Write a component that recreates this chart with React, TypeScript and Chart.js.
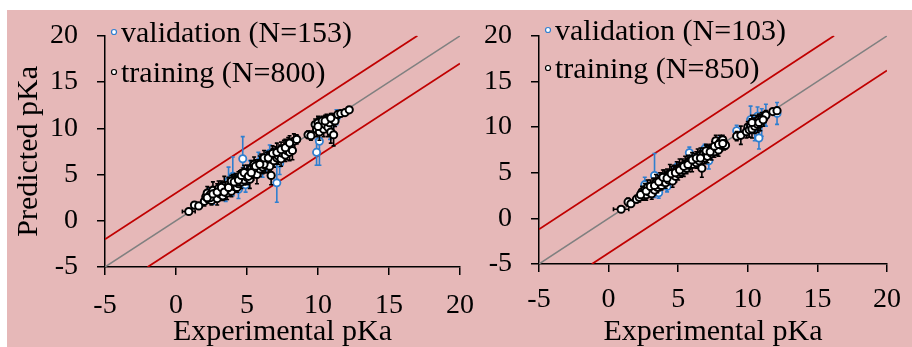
import { useEffect, useRef } from 'react';
import { Chart, registerables } from 'chart.js';
Chart.register(...registerables);

const FONT = '"Liberation Serif", "Times New Roman", serif';
const PINK = '#e6b8b8';
const BLUE = '#2f7fd0';
const RED = '#c00000';
const GRAY = '#808080';

// Left panel
const L_TRAIN_X = [0.9, 1.3, 1.6, 2.0, 2.1, 2.2, 2.3, 2.4, 2.5, 2.6, 2.7, 2.8, 2.9, 3.0, 3.1, 3.2, 3.3, 3.4, 3.5, 3.6, 3.7, 3.8, 3.9, 4.0, 4.1, 4.2, 4.3, 4.4, 4.5, 4.6, 4.7, 4.8, 4.9, 5.0, 5.1, 5.2, 5.3, 5.4, 5.5, 5.6, 5.7, 5.8, 5.9, 6.0, 6.1, 6.2, 6.3, 6.4, 6.5, 6.6, 6.7, 6.8, 6.9, 7.0, 7.1, 7.2, 7.3, 7.4, 7.5, 7.6, 7.7, 7.8, 7.9, 8.0, 8.1, 8.2, 8.3, 8.5, 9.3, 9.5, 9.8, 9.9, 10.0, 10.1, 10.2, 10.3, 10.4, 10.5, 10.6, 10.7, 10.8, 10.9, 11.0, 11.1, 11.2, 11.4, 11.6, 11.9, 12.2, 2.4, 3.0, 3.6, 4.3, 5.0, 5.5, 6.2,
  2.2, 2.6, 2.9, 3.2, 3.4, 3.7, 3.9, 4.1, 4.4, 4.6, 4.8, 5.1, 5.3, 5.6, 5.9, 6.2, 6.5, 6.8, 7.1, 7.4, 7.7, 8.0, 10.0, 10.5, 10.9];
const L_TRAIN_Y = [1.0, 1.7, 1.6, 2.1, 2.6, 3.0, 2.3, 2.8, 2.2, 3.3, 2.6, 3.0, 2.4, 3.5, 2.9, 3.2, 2.7, 3.8, 3.3, 3.0, 3.9, 3.5, 3.2, 4.1, 3.7, 4.4, 3.6, 4.0, 4.6, 4.2, 4.8, 4.4, 5.0, 4.7, 5.3, 4.5, 5.6, 5.0, 6.1, 5.4, 5.0, 6.0, 5.6, 6.3, 5.8, 6.5, 6.0, 6.7, 6.2, 5.9, 4.9, 6.9, 6.5, 7.2, 6.8, 7.0, 7.5, 6.7, 7.3, 7.8, 7.1, 7.6, 8.2, 7.4, 8.0, 7.6, 8.6, 8.8, 9.3, 9.2, 10.4, 9.9, 10.6, 9.6, 10.2, 10.8, 9.9, 10.4, 10.9, 10.1, 10.6, 9.6, 11.0, 9.3, 10.8, 11.5, 11.6, 11.7, 12.0, 2.5, 3.1, 3.5, 4.2, 5.2, 5.7, 6.1,
  2.5, 2.9, 3.1, 3.6, 3.1, 3.6, 4.3, 4.2, 4.4, 4.9, 5.2, 4.8, 5.2, 5.9, 6.1, 6.8, 6.8, 7.3, 7.4, 7.7, 7.9, 8.4, 10.2, 10.8, 11.1];
const L_TRAIN_E = [0.1, 0.3, 0.2, 0.5, 0.6, 0.7, 0.4, 0.8, 0.5, 0.9, 0.6, 0.5, 0.7, 0.8, 0.6, 0.9, 0.5, 1.0, 0.6, 0.7, 0.8, 0.5, 0.6, 0.9, 0.6, 0.7, 0.5, 0.6, 0.8, 0.7, 0.9, 0.5, 0.6, 0.8, 0.7, 1.0, 0.9, 0.6, 0.8, 0.7, 1.0, 0.6, 0.8, 0.9, 0.7, 0.6, 0.8, 0.7, 1.0, 0.6, 1.0, 0.9, 0.7, 0.8, 0.6, 0.9, 0.7, 0.8, 0.6, 0.9, 0.7, 1.0, 0.8, 0.9, 0.7, 1.0, 0.8, 0.5, 0.4, 0.5, 0.6, 0.8, 0.7, 0.9, 0.6, 0.5, 0.8, 0.7, 0.6, 1.0, 0.7, 1.2, 0.6, 1.2, 0.6, 0.4, 0.3, 0.3, 0.2, 0.6, 0.7, 0.6, 0.5, 0.8, 0.7, 0.9,
  0.5, 0.8, 0.9, 0.7, 0.8, 0.9, 0.6, 0.8, 0.9, 0.6, 0.8, 0.7, 0.9, 0.7, 0.9, 0.8, 0.7, 0.8, 1.0, 0.8, 0.9, 0.8, 0.9, 0.6, 0.5];
const L_VAL_X = [4.7, 7.1, 9.9, 10.1, 10.85, 4.0, 4.9, 7.3, 3.7, 3.5, 5.2, 5.8, 6.1, 2.6, 3.0, 8.0, 2.3, 6.6, 11.3, 4.4];
const L_VAL_Y = [6.7, 4.1, 7.4, 8.6, 10.1, 4.8, 3.9, 6.2, 4.3, 3.0, 5.6, 6.3, 5.5, 2.4, 2.9, 7.9, 3.0, 7.3, 11.2, 3.4];
const L_VAL_E = [2.4, 2.1, 1.4, 2.6, 1.3, 2.1, 0.8, 1.2, 1.5, 0.9, 0.9, 1.1, 0.8, 0.6, 0.7, 0.8, 0.5, 0.9, 0.8, 1.0];

// Right panel
const R_TRAIN_X = [0.9, 1.4, 1.6, 2.0, 2.2, 2.4, 2.5, 2.6, 2.7, 2.8, 2.9, 3.0, 3.1, 3.2, 3.3, 3.4, 3.5, 3.6, 3.7, 3.8, 3.9, 4.0, 4.1, 4.2, 4.3, 4.4, 4.5, 4.6, 4.7, 4.8, 4.9, 5.0, 5.1, 5.2, 5.3, 5.4, 5.5, 5.6, 5.7, 5.8, 5.9, 6.0, 6.2, 6.3, 6.4, 6.5, 6.6, 6.7, 6.8, 6.9, 7.0, 7.1, 7.2, 7.4, 7.5, 7.6, 7.7, 7.8, 7.9, 8.0, 8.1, 8.2, 8.3, 8.4, 9.2, 9.5, 9.9, 10.0, 10.1, 10.2, 10.3, 10.4, 10.5, 10.6, 10.7, 10.8, 10.9, 11.0, 11.2, 11.3, 11.8, 12.1,
  2.3, 2.7, 3.0, 3.3, 3.6, 3.9, 4.2, 4.5, 4.8, 5.1, 5.4, 5.7, 6.0, 6.3, 6.6, 7.0, 7.3, 7.6, 7.9, 8.2, 10.3, 10.8, 11.1];
const R_TRAIN_Y = [1.0, 1.8, 1.6, 2.1, 2.3, 2.9, 2.5, 3.1, 2.6, 3.4, 2.9, 3.2, 2.7, 3.6, 3.1, 3.9, 3.4, 3.7, 4.2, 3.6, 4.0, 4.4, 3.9, 4.6, 4.2, 4.9, 4.5, 4.1, 5.0, 4.6, 5.3, 4.9, 5.5, 5.1, 5.7, 5.3, 5.9, 5.5, 6.1, 5.8, 6.3, 5.9, 6.4, 6.1, 6.7, 6.3, 6.9, 5.5, 7.0, 6.6, 7.2, 6.8, 7.4, 7.1, 7.6, 7.3, 8.5, 7.8, 7.5, 8.3, 8.0, 8.6, 8.2, 8.0, 9.0, 9.1, 9.5, 10.0, 9.7, 10.2, 9.8, 10.4, 10.1, 10.6, 10.3, 10.8, 10.4, 10.9, 11.1, 11.3, 11.7, 11.8,
  2.6, 3.0, 3.5, 3.6, 4.0, 4.5, 4.4, 4.9, 5.0, 5.3, 5.7, 5.9, 6.4, 6.6, 6.6, 7.4, 7.3, 7.9, 8.1, 8.2, 10.5, 10.5, 10.8];
const R_TRAIN_E = [0.1, 0.4, 0.3, 0.4, 0.5, 0.6, 0.5, 0.7, 0.6, 0.8, 0.5, 0.7, 0.6, 0.8, 0.5, 0.9, 0.6, 0.7, 0.8, 0.5, 0.7, 0.9, 0.6, 0.8, 0.5, 1.0, 0.6, 0.7, 0.8, 0.6, 0.9, 0.7, 1.0, 0.6, 0.8, 0.7, 0.9, 0.6, 0.8, 0.7, 0.6, 0.8, 0.7, 0.6, 0.9, 0.7, 0.8, 1.0, 0.7, 0.6, 0.8, 0.7, 0.6, 0.7, 0.8, 0.6, 0.6, 0.9, 0.7, 0.8, 0.6, 0.5, 0.7, 0.4, 0.5, 1.0, 0.7, 0.6, 0.8, 0.7, 1.0, 0.6, 0.8, 0.7, 0.9, 0.6, 0.8, 0.7, 0.6, 0.5, 0.3, 0.3,
  0.5, 0.6, 0.7, 0.8, 0.7, 0.8, 0.7, 0.8, 0.7, 0.8, 0.6, 0.7, 0.8, 0.7, 0.8, 0.7, 0.8, 0.6, 0.7, 0.6, 0.8, 0.9, 0.7];
const R_VAL_X = [3.3, 10.8, 5.8, 7.2, 9.2, 10.2, 10.7, 11.3, 12.1, 10.5, 2.6, 3.1, 4.2, 4.0, 3.6, 6.9, 4.9, 8.0, 11.0];
const R_VAL_Y = [4.7, 8.8, 7.2, 6.3, 9.6, 10.8, 11.2, 11.3, 11.5, 9.9, 3.7, 3.0, 3.5, 3.8, 2.8, 7.6, 5.6, 8.4, 10.5];
const R_VAL_E = [2.4, 1.2, 0.6, 0.9, 0.6, 1.5, 1.0, 1.2, 1.2, 1.4, 0.8, 0.7, 0.6, 0.5, 0.6, 0.5, 0.6, 0.5, 1.5];

const X_TICKS = [-5, 0, 5, 10, 15, 20];
const Y_TICKS = [-5, 0, 5, 10, 15, 20];

function pts(xs: number[], ys: number[], es: number[], xerrLow: number) {
  return xs.map((x, i) => ({ x, y: ys[i], ey: es[i], ex: i === 0 ? xerrLow : 0.15 }));
}

const errorBars = {
  id: 'errorBars',
  beforeDatasetDraw(chart: any, args: any) {
    const ds = chart.data.datasets[args.index];
    if (!ds.errColor) return;
    const { ctx, scales } = chart;
    const xs = scales.x, ys = scales.y;
    ctx.save();
    ctx.strokeStyle = ds.errColor;
    ctx.lineWidth = 1.6;
    ds.data.forEach((p: any) => {
      const px = xs.getPixelForValue(p.x);
      const py = ys.getPixelForValue(p.y);
      const top = ys.getPixelForValue(p.y + p.ey);
      const bot = ys.getPixelForValue(p.y - p.ey);
      const l = xs.getPixelForValue(p.x - p.ex);
      const r = xs.getPixelForValue(p.x + p.ex);
      ctx.beginPath();
      ctx.moveTo(px, top); ctx.lineTo(px, bot);
      ctx.moveTo(px - 2, top); ctx.lineTo(px + 2, top);
      ctx.moveTo(px - 2, bot); ctx.lineTo(px + 2, bot);
      ctx.moveTo(l, py); ctx.lineTo(r, py);
      ctx.moveTo(l, py - 2); ctx.lineTo(l, py + 2);
      ctx.moveTo(r, py - 2); ctx.lineTo(r, py + 2);
      ctx.stroke();
    });
    ctx.restore();
  },
};

const legendBox = {
  id: 'legendBox',
  afterDraw(chart: any) {
    const items = chart.options.plugins.legendBox.items;
    const { ctx, chartArea } = chart;
    ctx.save();
    items.forEach((it: any) => {
      const mx = chartArea.left + 9;
      ctx.beginPath();
      ctx.arc(mx, it.y, 2.5, 0, Math.PI * 2);
      ctx.fillStyle = '#fff';
      ctx.fill();
      ctx.lineWidth = 1.2;
      ctx.strokeStyle = it.color;
      ctx.stroke();
      ctx.fillStyle = '#000';
      ctx.font = `30px ${FONT}`;
      ctx.textBaseline = 'middle';
      ctx.textAlign = 'left';
      ctx.fillText(it.text, chartArea.left + 16, it.y + 2);
    });
    ctx.restore();
  },
};

type PanelCfg = {
  padL: number; padR: number; yW: number; xH: number; xPad: number; showYTitle: boolean; band: number;
  train: any[]; val: any[]; legend: any[];
};

function makeConfig(p: PanelCfg): any {
  const axisFont = { family: FONT, size: 28 };
  const grid = { drawOnChartArea: false, drawTicks: true, tickLength: 8, color: '#000', lineWidth: 1.5 };
  return {
    type: 'scatter',
    data: {
      datasets: [
        { data: p.train, order: 1, errColor: '#000', pointRadius: 3.6, pointBorderWidth: 2, pointBackgroundColor: '#fff', pointBorderColor: '#000' },
        { data: p.val, order: 2, errColor: BLUE, pointRadius: 3.6, pointBorderWidth: 1.8, pointBackgroundColor: '#fff', pointBorderColor: BLUE },
        { data: [{ x: -5, y: -5 }, { x: 20, y: 20 }], order: 3, showLine: true, pointRadius: 0, borderColor: GRAY, borderWidth: 1.5 },
        { data: [{ x: -5, y: -5 + p.band }, { x: 20 - p.band, y: 20 }], order: 3, showLine: true, pointRadius: 0, borderColor: RED, borderWidth: 1.8 },
        { data: [{ x: -5 + p.band, y: -5 }, { x: 20, y: 20 - p.band }], order: 3, showLine: true, pointRadius: 0, borderColor: RED, borderWidth: 1.8 },
      ],
    },
    options: {
      animation: false,
      responsive: false,
      devicePixelRatio: 1,
      layout: { padding: { left: p.padL, right: p.padR, top: 28, bottom: 0 } },
      plugins: { legend: { display: false }, tooltip: { enabled: false }, legendBox: { items: p.legend } },
      scales: {
        x: {
          type: 'linear', min: -5, max: 20,
          afterBuildTicks: (s: any) => { s.ticks = X_TICKS.map((v) => ({ value: v })); },
          ticks: { color: '#000', font: axisFont, padding: p.xPad, maxRotation: 0, autoSkip: false },
          grid, border: { display: true, color: '#000', width: 1.5 },
          title: { display: true, text: 'Experimental pKa', color: '#000', font: { family: FONT, size: 30, lineHeight: 1 }, padding: { top: 0, bottom: 0 } },
          afterFit: (s: any) => { s.height = p.xH; },
        },
        y: {
          type: 'linear', min: -5, max: 20,
          afterBuildTicks: (s: any) => { s.ticks = Y_TICKS.map((v) => ({ value: v })); },
          ticks: { color: '#000', font: axisFont, padding: 19, autoSkip: false },
          grid, border: { display: true, color: '#000', width: 1.5 },
          title: { display: p.showYTitle, text: 'Predicted pKa', color: '#000', font: { family: FONT, size: 30, lineHeight: 1.2 }, padding: { top: 4, bottom: 0 } },
          afterFit: (s: any) => { s.width = p.yW; },
        },
      },
    },
    plugins: [errorBars, legendBox],
  };
}

function Panel({ cfg }: { cfg: PanelCfg }) {
  const ref = useRef<HTMLCanvasElement>(null);
  useEffect(() => {
    const chart = new Chart(ref.current as HTMLCanvasElement, makeConfig(cfg));
    return () => chart.destroy();
  }, []);
  return (
    <canvas ref={ref} width={912} height={347}
      style={{ position: 'absolute', left: 0, top: 0, width: '912px', height: '347px' }} />
  );
}

const LEFT: PanelCfg = {
  padL: 7, padR: 452, yW: 98, xH: 80, xPad: 14, showYTitle: true, band: 3,
  train: pts(L_TRAIN_X, L_TRAIN_Y, L_TRAIN_E, 0.45),
  val: pts(L_VAL_X, L_VAL_Y, L_VAL_E, 0.15),
  legend: [
    { text: 'validation (N=153)', color: BLUE, y: 32 },
    { text: 'training (N=800)', color: '#000', y: 72 },
  ],
};

const RIGHT: PanelCfg = {
  padL: 460, padR: 16, yW: 79, xH: 83, xPad: 11, showYTitle: false, band: 3.8,
  train: pts(R_TRAIN_X, R_TRAIN_Y, R_TRAIN_E, 0.55),
  val: pts(R_VAL_X, R_VAL_Y, R_VAL_E, 0.15),
  legend: [
    { text: 'validation (N=103)', color: BLUE, y: 30 },
    { text: 'training (N=850)', color: '#000', y: 68 },
  ],
};

export default function App() {
  return (
    <div style={{ position: 'fixed', left: 0, top: 0, width: 912, height: 347, background: '#fff', overflow: 'hidden' }}>
      <div style={{ position: 'absolute', left: 7, top: 10, width: 905, height: 337, background: PINK }} />
      <Panel cfg={LEFT} />
      <Panel cfg={RIGHT} />
    </div>
  );
}
